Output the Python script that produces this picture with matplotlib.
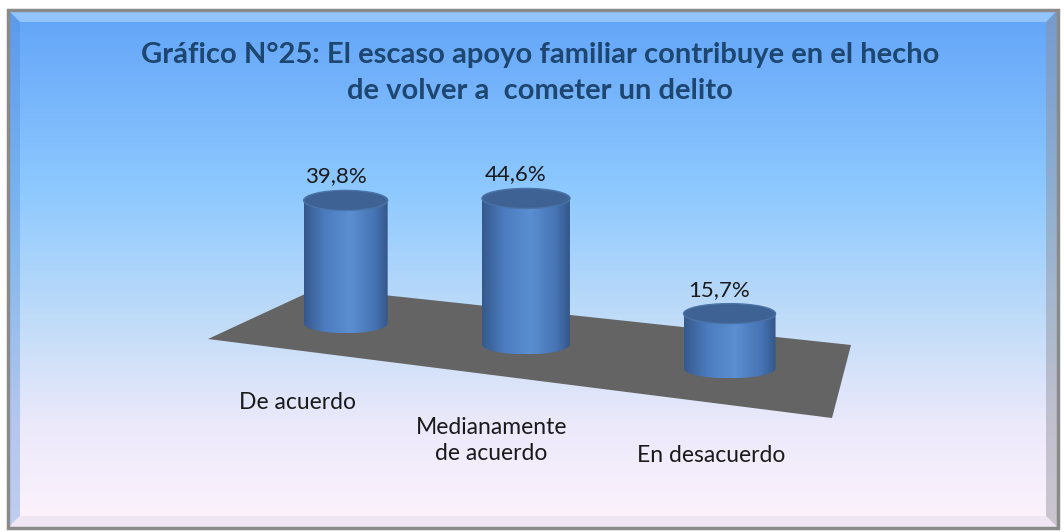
import numpy as np
import matplotlib
matplotlib.use("Agg")
import matplotlib.pyplot as plt
from matplotlib.patches import Polygon, PathPatch, Ellipse
from matplotlib.path import Path
from matplotlib.colors import LinearSegmentedColormap

# datos del gráfico
categorias = ["De acuerdo", "Medianamente\nde acuerdo", "En desacuerdo"]
valores = [39.8, 44.6, 15.7]
etiquetas = ["39,8%", "44,6%", "15,7%"]
titulo = "Gráfico N°25: El escaso apoyo familiar contribuye en el hecho\nde volver a  cometer un delito"

W, H = 1064, 532
fig = plt.figure(figsize=(W / 100, H / 100), dpi=100)
ax = fig.add_axes([0, 0, 1, 1])
ax.set_xlim(0, W)
ax.set_ylim(H, 0)
ax.axis("off")

# fondo degradado
fondo = LinearSegmentedColormap.from_list(
    "fondo", [(0, "#62a4f8"), (0.35, "#8ec9ff"), (0.6, "#c0dcf8"), (0.8, "#ece9fb"), (1, "#fdf3fc")])
grad = np.linspace(0, 1, 256).reshape(-1, 1)
ax.imshow(grad, cmap=fondo, extent=[8, 1058, 528, 10], aspect="auto", zorder=0)

# marco con bisel
ax.add_patch(Polygon([[8, 10], [1058, 10], [1046, 22], [20, 22]], closed=True,
                     facecolor="#a9d2ff", alpha=0.7, lw=0, zorder=1))
ax.add_patch(Polygon([[8, 10], [20, 22], [20, 516], [8, 528]], closed=True,
                     facecolor="#4f88d6", alpha=0.35, lw=0, zorder=1))
ax.add_patch(Polygon([[1058, 10], [1058, 528], [1046, 516], [1046, 22]], closed=True,
                     facecolor="#8f8f9a", alpha=0.45, lw=0, zorder=1))
ax.add_patch(Polygon([[8, 528], [20, 516], [1046, 516], [1058, 528]], closed=True,
                     facecolor="#e8dff0", alpha=0.6, lw=0, zorder=1))
ax.add_patch(Polygon([[8, 10], [1058, 10], [1058, 528], [8, 528]], closed=True,
                     fill=False, edgecolor="#8a8a8a", lw=2.5, zorder=2))

# piso (plano gris en perspectiva)
izq, atras_izq, atras_der, frente_der = (208, 339), (318, 288), (851, 345), (832, 418)
ax.add_patch(Polygon([izq, atras_izq, atras_der, frente_der], closed=True,
                     facecolor="#646464", edgecolor="none", zorder=3))

q = 1.2  # perspectiva


def frac(t):
    return t / (t + (1 - t) * q)


mid_izq = np.mean([izq, atras_izq], axis=0)
mid_der = np.mean([atras_der, frente_der], axis=0)

cil = LinearSegmentedColormap.from_list(
    "cil", [(0, "#36598c"), (0.25, "#4b7cbf"), (0.55, "#5b8fd2"), (0.85, "#4673b3"), (1, "#35578a")])

n = len(valores)
for i, (v, et, cat) in enumerate(zip(valores, etiquetas, categorias)):
    t = (i + 0.5) / n
    f = frac(t)
    escala = 1 / (t + (1 - t) * q)
    cx, by = mid_izq + (mid_der - mid_izq) * f
    a, b = 42 + 2 * i, 10
    h = v * 3.6 * escala
    ty = by - h
    # cuerpo del cilindro
    ang = np.linspace(np.pi, 0, 60)
    xs = np.concatenate([[cx - a], cx + a * np.cos(ang), [cx + a]])
    ys = np.concatenate([[ty], by + b * np.sin(ang), [ty]])
    ruta = Path(np.column_stack([xs, ys]))
    cuerpo = PathPatch(ruta, facecolor="none", edgecolor="none", zorder=4)
    ax.add_patch(cuerpo)
    img = ax.imshow(np.linspace(0, 1, 200).reshape(1, -1), cmap=cil, aspect="auto",
                    extent=[cx - a, cx + a, by + b, ty], zorder=4)
    img.set_clip_path(cuerpo)
    # tapa
    ax.add_patch(Ellipse((cx, ty), 2 * a, 2 * b, facecolor="#3e6293",
                         edgecolor="#4a73a8", lw=1, zorder=5))
    # etiqueta de valor
    ax.text(cx - 10, ty - b - 4, et, ha="center", va="bottom", fontsize=16,
            family="Lato", color="#1a1a1a", zorder=6)
    # etiqueta de categoría sobre el borde frontal
    fx, fy = np.array(izq) + (np.array(frente_der) - np.array(izq)) * f
    ax.text(fx, fy + 42, cat, ha="center", va="top", fontsize=16.5, family="Lato",
            color="#1a1a1a", linespacing=1.3, zorder=6)

ax.text(540, 73, titulo, ha="center", va="center", fontsize=21, fontweight="bold",
        family="Lato", color="#1d4670", linespacing=1.5, zorder=6)

fig.savefig("out.png", dpi=100)
